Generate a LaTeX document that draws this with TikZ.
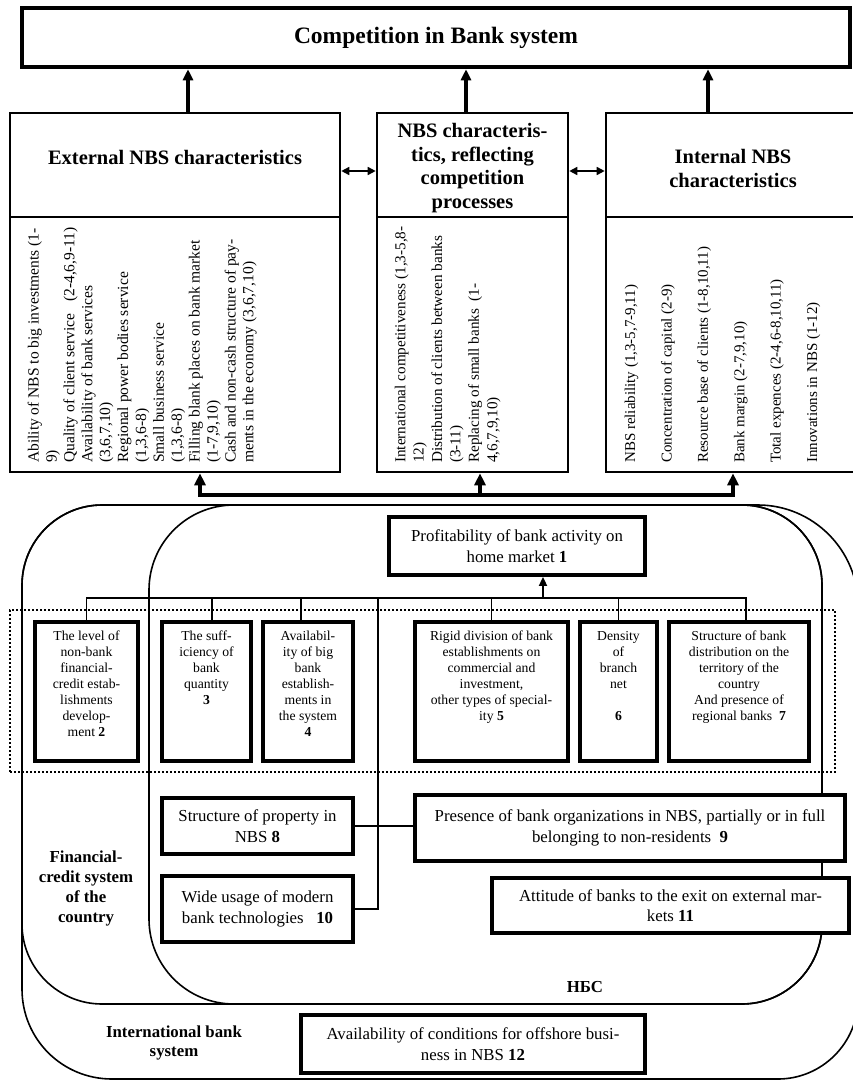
\documentclass[tikz,border=0pt]{standalone}
\usepackage{fontspec}
\setmainfont{Liberation Serif}
\usetikzlibrary{arrows.meta}
\newcommand{\myfs}[2]{\fontsize{#1pt}{#2pt}\selectfont}
\newcommand{\titlefont}{\myfs{23.5}{28}\bfseries}
\newcommand{\hdrfont}{\myfs{20.5}{23.8}\bfseries}
\newcommand{\bodyfont}{\myfs{16.8}{20.5}}
\newcommand{\rowfont}{\myfs{13.7}{16}}
\newcommand{\lblfont}{\myfs{16.8}{19.7}\bfseries}
\begin{document}
\begin{tikzpicture}[x=1pt,y=-1pt,
  every node/.style={inner sep=0pt},
  topbox/.style={draw,line width=4.5pt},
  hbox/.style={draw,line width=2.6pt},
  tbox/.style={draw,line width=3.8pt,fill=white},
  region/.style={line width=1.6pt},
  conn/.style={line width=1.8pt},
  busline/.style={line width=4pt},
  busar/.style={line width=4pt,{Triangle[length=12pt,width=11pt]}-{Triangle[length=12pt,width=11pt]}},
  midar/.style={line width=4pt,-{Triangle[length=12pt,width=11pt]}},
  upar/.style={line width=3.5pt,-{Triangle[length=11pt,width=10pt]}},
  dbl/.style={line width=1.6pt,{Triangle[length=8pt,width=8pt]}-{Triangle[length=8pt,width=8pt]}},
  smallar/.style={line width=1.8pt,-{Triangle[length=9pt,width=8pt]}},
  dotframe/.style={draw,line width=1.8pt,dash pattern=on 1.8pt off 2.2pt}]
\useasboundingbox (0,0) rectangle (853,1081);
\clip (0,0) rectangle (853,1081);

% regions
\draw[region] (102,505) -- (758,505) .. controls (813,505) and (858,550) .. (858,605)
  -- (858,999) .. controls (858,1043) and (822,1079) .. (778,1079)
  -- (112,1079) .. controls (62,1079) and (22,1039) .. (22,989)
  -- (22,585) .. controls (22,541) and (58,505) .. (102,505) -- cycle;
\draw[region] (102,505) -- (742,505) .. controls (786,505) and (822,541) .. (822,585)
  -- (822,924) .. controls (822,968) and (786,1004) .. (742,1004)
  -- (102,1004) .. controls (58,1004) and (22,968) .. (22,924)
  -- (22,585) .. controls (22,541) and (58,505) .. (102,505) -- cycle;
\draw[region] (234,505) -- (742,505) .. controls (786,505) and (822,541) .. (822,585)
  -- (822,924) .. controls (822,968) and (786,1004) .. (742,1004)
  -- (234,1004) .. controls (187,1004) and (149,966) .. (149,919)
  -- (149,590) .. controls (149,543) and (187,505) .. (234,505) -- cycle;

% dotted frame
\node[dotframe,minimum width=825pt,minimum height=162pt] (grp) at (422.5,691) {};

% top
\node[topbox,minimum width=828pt,minimum height=59pt,font=\titlefont] (top) at (436,37.5) {Competition in Bank system};

% header boxes
\node[hbox,minimum width=330pt,minimum height=104pt] (exth) at (175,165) {};
\node[hbox,minimum width=191pt,minimum height=104pt] (midh) at (472.5,165) {};
\node[hbox,minimum width=252pt,minimum height=104pt] (inth) at (732,165) {};
\node[hbox,minimum width=330pt,minimum height=255pt] (extb) at (175,344.5) {};
\node[hbox,minimum width=191pt,minimum height=255pt] (midb) at (472.5,344.5) {};
\node[hbox,minimum width=252pt,minimum height=255pt] (intb) at (732,344.5) {};
\node[font=\hdrfont] (exttx) at (175,157) {External NBS characteristics};
\node[font=\hdrfont,align=center] (midtx) at (472.5,168) {NBS characteris-\\tics, reflecting\\competition\\processes};
\node[font=\hdrfont,align=center] (inttx) at (733,168.5) {Internal NBS\\characteristics};

\node[rotate=90,anchor=north west,align=left,font=\myfs{15.5}{17.9}] (extlist) at (27.5,463)
 {Ability of NBS to big investments (1-\\9)\\Quality of client service \ \ (2-4,6,9-11)\\Availability of bank services\\(3,6,7,10)\\Regional power bodies service\\(1,3,6-8)\\Small business service\\(1,3,6-8)\\Filling blank places on bank market\\(1-7,9,10)\\Cash and non-cash structure of pay-\\ments in the economy (3,6,7,10)};
\node[rotate=90,anchor=north west,align=left,font=\myfs{15.2}{18.4}] (midlist) at (394.5,463)
 {International competitiveness (1,3-5,8-\\12)\\Distribution of clients between banks\\(3-11)\\Replacing of small banks \ (1-\\4,6,7,9,10)};
\node[rotate=90,anchor=north west,align=left,font=\myfs{15}{36.4}] (intlist) at (624.5,463)
 {NBS reliability (1,3-5,7-9,11)\\Concentration of capital (2-9)\\Resource base of clients (1-8,10,11)\\Bank margin (2-7,9,10)\\Total expences (2-4,6-8,10,11)\\Innovations in NBS (1-12)};

% profitability
\node[tbox,minimum width=256pt,minimum height=58pt,font=\bodyfont,align=center] (p1) at (517,546) {Profitability of bank activity on\\home market \textbf{1}};

% row boxes
\node[tbox,minimum width=103pt,minimum height=139pt] (b2) at (86.5,691.5) {};
\node[tbox,minimum width=89pt,minimum height=139pt] (b3) at (206.5,691.5) {};
\node[tbox,minimum width=90pt,minimum height=139pt] (b4) at (308,691.5) {};
\node[tbox,minimum width=153pt,minimum height=139pt] (b5) at (491.5,691.5) {};
\node[tbox,minimum width=77pt,minimum height=139pt] (b6) at (618.5,691.5) {};
\node[tbox,minimum width=140pt,minimum height=139pt] (b7) at (739,691.5) {};
\node[anchor=north,align=center,font=\rowfont] (t2) at (86.5,631) {The level of\\non-bank\\financial-\\credit estab-\\lishments\\develop-\\ment \textbf{2}};
\node[anchor=north,align=center,font=\rowfont] (t3) at (206.5,631) {The suff-\\iciency of\\bank\\quantity\\\textbf{3}};
\node[anchor=north,align=center,font=\rowfont] (t4) at (308,631) {Availabil-\\ity of big\\bank\\establish-\\ments in\\the system\\\textbf{4}};
\node[anchor=north,align=center,font=\rowfont] (t5) at (491.5,631) {Rigid division of bank\\establishments on\\commercial and\\investment,\\other types of special-\\ity \textbf{5}};
\node[anchor=north,align=center,font=\rowfont] (t6) at (618.5,631) {Density\\of\\branch\\net\\[16pt]\textbf{6}};
\node[anchor=north,align=center,font=\rowfont] (t7) at (739,631) {Structure of bank\\distribution on the\\territory of the\\country\\And presence of\\regional banks \ \textbf{7}};

% lower boxes
\node[tbox,minimum width=191pt,minimum height=56pt,font=\bodyfont,align=center] (b8) at (257.5,826) {Structure of property in\\NBS \textbf{8}};
\node[tbox,minimum width=430pt,minimum height=66pt,font=\bodyfont,align=center] (b9) at (630,828) {Presence of bank organizations in NBS, partially or in full\\belonging to non-residents \ \textbf{9}};
\node[tbox,minimum width=191pt,minimum height=66pt,font=\bodyfont,align=center] (b10) at (257.5,909) {Wide usage of modern\\bank technologies \ \ \textbf{10}};
\node[tbox,minimum width=357pt,minimum height=55pt,font=\bodyfont,align=center] (b11) at (670.5,905.5) {Attitude of banks to the exit on external mar-\\kets \textbf{11}};
\node[tbox,minimum width=344pt,minimum height=58pt,font=\bodyfont,align=center] (b12) at (473,1044) {Availability of conditions for offshore busi-\\ness in NBS \textbf{12}};

% region labels
\node[font=\lblfont,align=center] (fcs) at (86,888.5) {Financial-\\credit system\\of the\\country};
\node[font=\lblfont] (nbs) at (585,987) {НБС};
\node[font=\lblfont,align=center] (ibs) at (174,1043) {International bank\\system};

% connectors: to top
\draw[upar] ([xshift=13pt]exth.north) -- ([xshift=13pt]exth.north |- top.south);
\draw[upar] ([xshift=-6.5pt]midh.north) -- ([xshift=-6.5pt]midh.north |- top.south);
\draw[upar] ([xshift=-24pt]inth.north) -- ([xshift=-24pt]inth.north |- top.south);
\draw[dbl] ([yshift=-6pt]exth.east) -- ([yshift=-6pt]midh.west);
\draw[dbl] ([yshift=-6pt]midh.east) -- ([yshift=-6pt]inth.west);

% bus
\coordinate (busL) at (200,495);
\coordinate (busM) at (480,495);
\coordinate (busR) at (733,495);
\draw[busar] (busL |- extb.south) -- (busL) -- (busR) -- (busR |- intb.south);
\draw[midar] (busM) -- (busM |- midb.south);

% tree
\coordinate (tr) at (543,598);
\coordinate (j10) at (378,598);
\draw[smallar] (tr) -- (tr |- p1.south);
\draw[conn] (b2.north) |- (tr) -| ([xshift=7pt]b7.north);
\draw[conn] ([xshift=5.5pt]b3.north) -- ([xshift=5.5pt]b3.north |- tr);
\draw[conn] ([xshift=-7pt]b4.north) -- ([xshift=-7pt]b4.north |- tr);
\draw[conn] (b5.north) -- (b5.north |- tr);
\draw[conn] (b6.north) -- (b6.north |- tr);
\draw[conn] (b10.east) -| (j10);
\draw[conn] (b8.east) -- (b8.east -| b9.west);
\end{tikzpicture}
\end{document}
